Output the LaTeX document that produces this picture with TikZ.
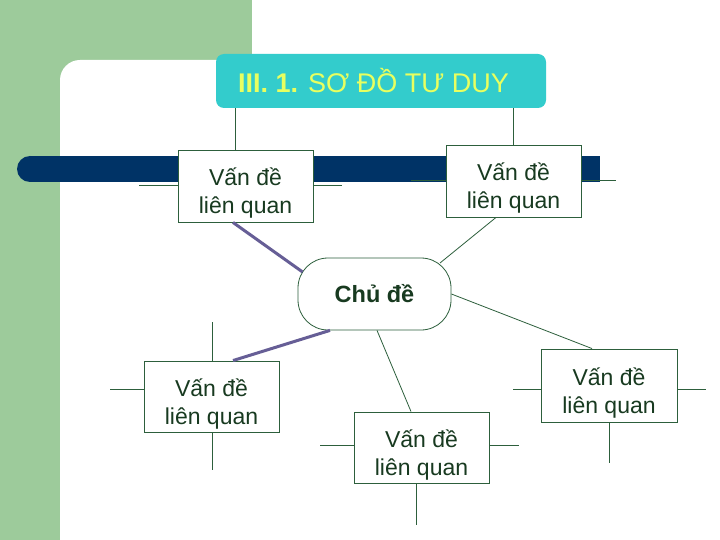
\documentclass[tikz,border=0pt]{standalone}
\usepackage{fontspec}
\setmainfont{Liberation Sans}
\definecolor{bggreen}{RGB}{157,203,155}
\definecolor{barblue}{RGB}{0,51,102}
\definecolor{teal}{RGB}{51,204,204}
\definecolor{titleyellow}{RGB}{232,255,95}
\definecolor{textgreen}{RGB}{24,58,32}
\definecolor{linegreen}{RGB}{45,95,60}
\definecolor{purpleline}{RGB}{102,94,150}
\newcommand{\firstline}{\rule{0pt}{32pt}}
\begin{document}
\begin{tikzpicture}[x=1pt,y=-1pt,
  vbox/.style={draw=linegreen, line width=0.9pt, fill=white, minimum width=135pt,
    minimum height=72pt, align=center, text=textgreen, inner sep=0pt,
    font=\fontsize{23}{28}\selectfont},
  cbox/.style={draw=linegreen, line width=0.8pt, fill=white, rounded corners=30pt,
    minimum width=153pt, minimum height=72pt, text=textgreen, inner sep=0pt,
    font=\bfseries\fontsize{23.5}{28}\selectfont},
  titlebox/.style={fill=teal, rounded corners=8pt, minimum width=330pt,
    minimum height=54pt, inner sep=0pt},
  titletext/.style={text=titleyellow, inner sep=0pt, font=\fontsize{27}{32}\selectfont},
  thinline/.style={draw=linegreen, line width=0.8pt},
  thickline/.style={draw=purpleline, line width=3pt}]
\useasboundingbox (0,0) rectangle (720,540);
% background
\fill[white] (0,0) rectangle (720,540);
\fill[bggreen] (0,0) rectangle (252,540);
\fill[white, rounded corners=20pt] (60,60) rectangle (760,580);
\fill[white] (252,0) rectangle (720,60);
% dark bar
\fill[barblue] (30,156) rectangle (600,182);
\fill[barblue] (30,169) circle[radius=13];
% title
\node[titlebox] (title) at (381,81) {};
\node[titletext, anchor=base] (ttext) at (373.5,93) {\textbf{III. 1.} SƠ ĐỒ TƯ DUY};
% boxes
\node[vbox] (tl) at (245.5,186) {\firstline Vấn đề\\liên quan};
\node[vbox] (tr) at (513.5,181) {\firstline Vấn đề\\liên quan};
\node[vbox, minimum height=71pt] (ll) at (211.5,396.5) {\firstline Vấn đề\\liên quan};
\node[vbox, minimum height=71pt] (b) at (421.5,447.5) {\firstline Vấn đề\\liên quan};
\node[vbox, minimum width=136pt, minimum height=73pt] (r) at (609,385.5) {\firstline Vấn đề\\liên quan};
\node[cbox] (c) at (374.5,294) {Chủ đề};
% stubs
\draw[thinline] (tl.west |- 0,185) -- (139,185);
\draw[thinline] (tl.east |- 0,185) -- (342,185);
\draw[thinline] (tr.west |- 0,180) -- (411,180);
\draw[thinline] (tr.east |- 0,180) -- (616,180);
\draw[thinline] (ll.north -| 212,0) -- (212,322);
\draw[thinline] (ll.west |- 0,389) -- (110,389);
\draw[thinline] (ll.south -| 212,0) -- (212,470);
\draw[thinline] (b.west |- 0,445) -- (320,445);
\draw[thinline] (b.east |- 0,445) -- (519,445);
\draw[thinline] (b.south -| 416,0) -- (416,525);
\draw[thinline] (r.west |- 0,389) -- (513,389);
\draw[thinline] (r.east |- 0,389) -- (706,389);
\draw[thinline] (r.south -| 609,0) -- (609,463);
% title connectors
\draw[thinline] (title.south -| 235,0) -- (tl.north -| 235,0);
\draw[thinline] (title.south -| tr.north) -- (tr.north);
% connectors from centre
\draw[thickline] (tl.south -| 233,0) -- ([shift={(5,-22)}]c.west);
\draw[thickline] (c.south -| 330,0) -- (ll.north -| 233,0);
\draw[thinline] ([shift={(65.5,-31)}]c.center) -- (tr.south -| 496,0);
\draw[thinline] (c.east) -- (r.north -| 592,0);
\draw[thinline] (c.south -| 377,0) -- (b.north -| 411,0);
\end{tikzpicture}
\end{document}
